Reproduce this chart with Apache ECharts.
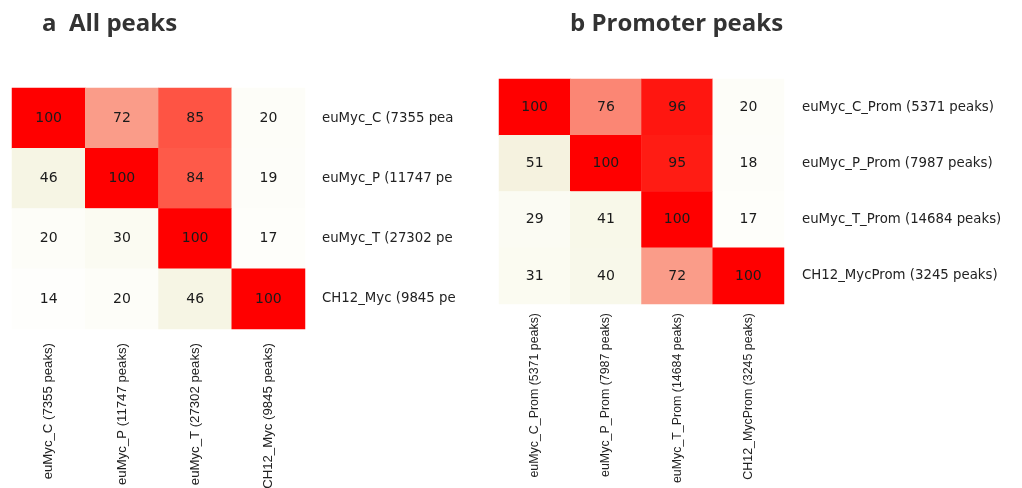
<!DOCTYPE html>
<html>
<head>
<meta charset="utf-8">
<script src="https://cdn.jsdelivr.net/npm/echarts@6/dist/echarts.min.js"></script>
<style>
  html, body { margin: 0; padding: 0; background: #fff; }
  #chart { width: 1022px; height: 488px; }
</style>
</head>
<body>
<div id="chart"></div>
<script>
// panel a: all peaks
const labelsA = ["euMyc_C (7355 peaks)", "euMyc_P (11747 peaks)", "euMyc_T (27302 peaks)", "CH12_Myc (9845 peaks)"];
const valuesA = [
  [100, 72, 85, 20],
  [46, 100, 84, 19],
  [20, 30, 100, 17],
  [14, 20, 46, 100],
];

// panel b: promoter peaks
const labelsB = ["euMyc_C_Prom (5371 peaks)", "euMyc_P_Prom (7987 peaks)", "euMyc_T_Prom (14684 peaks)", "CH12_MycProm (3245 peaks)"];
const valuesB = [
  [100, 76, 96, 20],
  [51, 100, 95, 18],
  [29, 41, 100, 17],
  [31, 40, 72, 100],
];

const titles = ["a  All peaks", "b Promoter peaks"];

// white -> beige -> salmon -> red, stops every 10 from 10 to 100
const colorStops = ["#ffffff", "#fdfdf8", "#fbfbf2", "#f8f8ea", "#f5f3e0", "#f6eada", "#f9a793", "#fd705f", "#ff3828", "#ff0000"];

function toCells(matrix) {
  const out = [];
  matrix.forEach((row, r) => row.forEach((v, c) => out.push([c, r, v])));
  return out;
}

const cellFont = "DejaVu Sans";
const axisFont = "Liberation Sans";

function xAxisFor(idx, labels, margin, size) {
  return {
    type: "category",
    gridIndex: idx,
    data: labels,
    axisLine: { show: false },
    axisTick: { show: false },
    splitLine: { show: false },
    axisLabel: {
      rotate: 90,
      margin: margin,
      fontFamily: axisFont,
      fontSize: size,
      color: "#222",
      interval: 0,
    },
  };
}

function yAxisFor(idx, labels, margin, width) {
  const lab = {
    margin: margin,
    fontFamily: cellFont,
    fontSize: 13.3,
    color: "#222",
    interval: 0,
    align: "left",
  };
  if (width) {
    lab.width = width;
    lab.overflow = "truncate";
    lab.ellipsis = "";
  }
  return {
    type: "category",
    gridIndex: idx,
    data: labels,
    position: "right",
    inverse: true,
    axisLine: { show: false },
    axisTick: { show: false },
    splitLine: { show: false },
    axisLabel: lab,
  };
}

function heatSeries(idx, matrix) {
  return {
    type: "heatmap",
    xAxisIndex: idx,
    yAxisIndex: idx,
    data: toCells(matrix),
    itemStyle: { borderWidth: 0 },
    label: {
      show: true,
      fontFamily: cellFont,
      fontSize: 14,
      color: "#1a1a1a",
    },
    emphasis: { disabled: true },
  };
}

const chart = echarts.init(document.getElementById("chart"), null, { renderer: "canvas" });
chart.setOption({
  animation: false,
  backgroundColor: "#fff",
  title: [
    {
      text: titles[0],
      left: 37,
      top: 7,
      textStyle: { fontFamily: "Open Sans", fontWeight: "bold", fontSize: 24, color: "#333" },
    },
    {
      text: titles[1],
      left: 565,
      top: 7,
      textStyle: { fontFamily: "Open Sans", fontWeight: "bold", fontSize: 24, color: "#333" },
    },
  ],
  grid: [
    { left: 12, top: 88, width: 293, height: 241, containLabel: false, outerBoundsMode: "none" },
    { left: 499, top: 79, width: 285, height: 225, containLabel: false, outerBoundsMode: "none" },
  ],
  xAxis: [xAxisFor(0, labelsA, 14, 13.2), xAxisFor(1, labelsB, 9, 12.4)],
  yAxis: [yAxisFor(0, labelsA, 17, 137), yAxisFor(1, labelsB, 18)],
  visualMap: {
    type: "continuous",
    show: false,
    min: 10,
    max: 100,
    seriesIndex: [0, 1],
    inRange: { color: colorStops },
  },
  series: [heatSeries(0, valuesA), heatSeries(1, valuesB)],
});
</script>
</body>
</html>
